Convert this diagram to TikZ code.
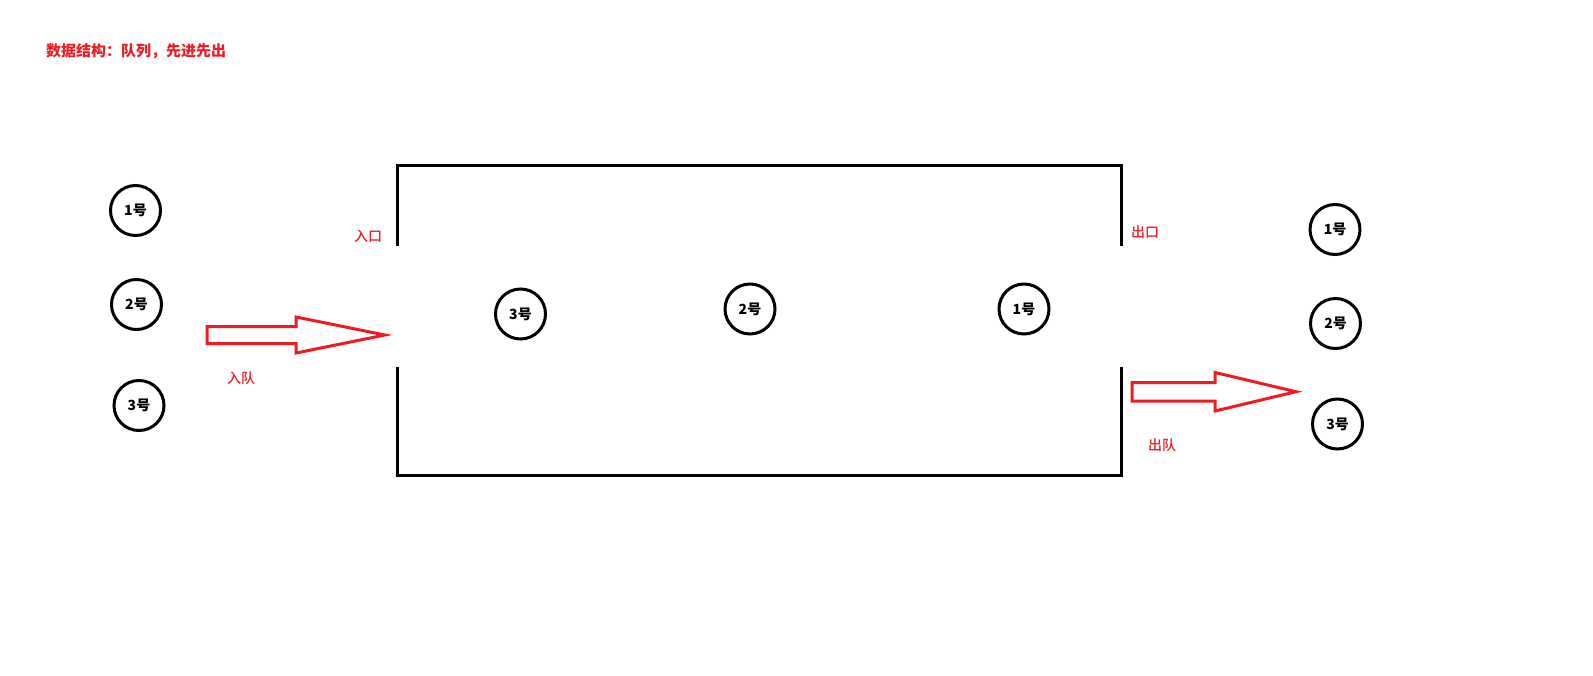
\documentclass[tikz,border=0pt]{standalone}
\usepackage{fontspec}
\setmainfont{Noto Sans CJK SC}
\newfontfamily\cjkmid{Noto Sans CJK SC Medium}
\usepackage{tikz}
\usetikzlibrary{positioning}
\definecolor{qRed}{RGB}{237,28,36}
\definecolor{qBlack}{RGB}{0,0,0}
\tikzset{
    base/.style={font=\fontsize{14}{16}\selectfont, align=center, inner sep=0pt},
    ball/.style={base, circle, draw=qBlack, line width=3pt, minimum size=50pt,
                 font=\fontsize{14}{16}\selectfont\bfseries, text=qBlack},
    tag/.style={base, text=qRed, font=\fontsize{14}{16}\selectfont\cjkmid},
    wall/.style={draw=qBlack, line width=3pt},
    pipe/.style={draw=qRed, line width=3pt, line join=miter}
}
\begin{document}
\begin{tikzpicture}[x=1pt,y=-1pt]
  \useasboundingbox (0,0) rectangle (1593,675);
  % title
  \node[tag, anchor=west, font=\fontsize{15}{17}\selectfont\bfseries] (title) at (46,51) {数据结构：队列，先进先出};
  % waiting to enter
  \node[ball] (in1) at (135.5,210.5) {1号};
  \node[ball] (in2) at (136.5,304.5) {2号};
  \node[ball] (in3) at (139,405.5) {3号};
  % the queue
  \draw[wall] (397.5,246) -- (397.5,165) -- (1121,165) -- (1121,246);
  \draw[wall] (397.5,367) -- (397.5,475) -- (1121,475) -- (1121,367);
  \node[tag] (entry) at (368,236) {入口};
  \node[tag] (exit) at (1145,232) {出口};
  \node[ball] (q3) at (520.5,314) {3号};
  \node[ball] (q2) at (750,309) {2号};
  \node[ball] (q1) at (1024,309) {1号};
  % enqueue arrow
  \draw[pipe] (207,326.5) -- (296,326.5) -- (296,317) -- (385,335) -- (296,353)
    -- (296,343.5) -- (207,343.5) -- cycle;
  \node[tag] (enq) at (241,378) {入队};
  % dequeue arrow
  \draw[pipe] (1132,382.5) -- (1215,382.5) -- (1215,372.5) -- (1296,391.7) -- (1215,411)
    -- (1215,401) -- (1132,401) -- cycle;
  \node[tag] (deq) at (1162,445) {出队};
  % left the queue
  \node[ball] (out1) at (1335,229.5) {1号};
  \node[ball] (out2) at (1335.5,323.5) {2号};
  \node[ball] (out3) at (1337.5,424) {3号};
\end{tikzpicture}
\end{document}
